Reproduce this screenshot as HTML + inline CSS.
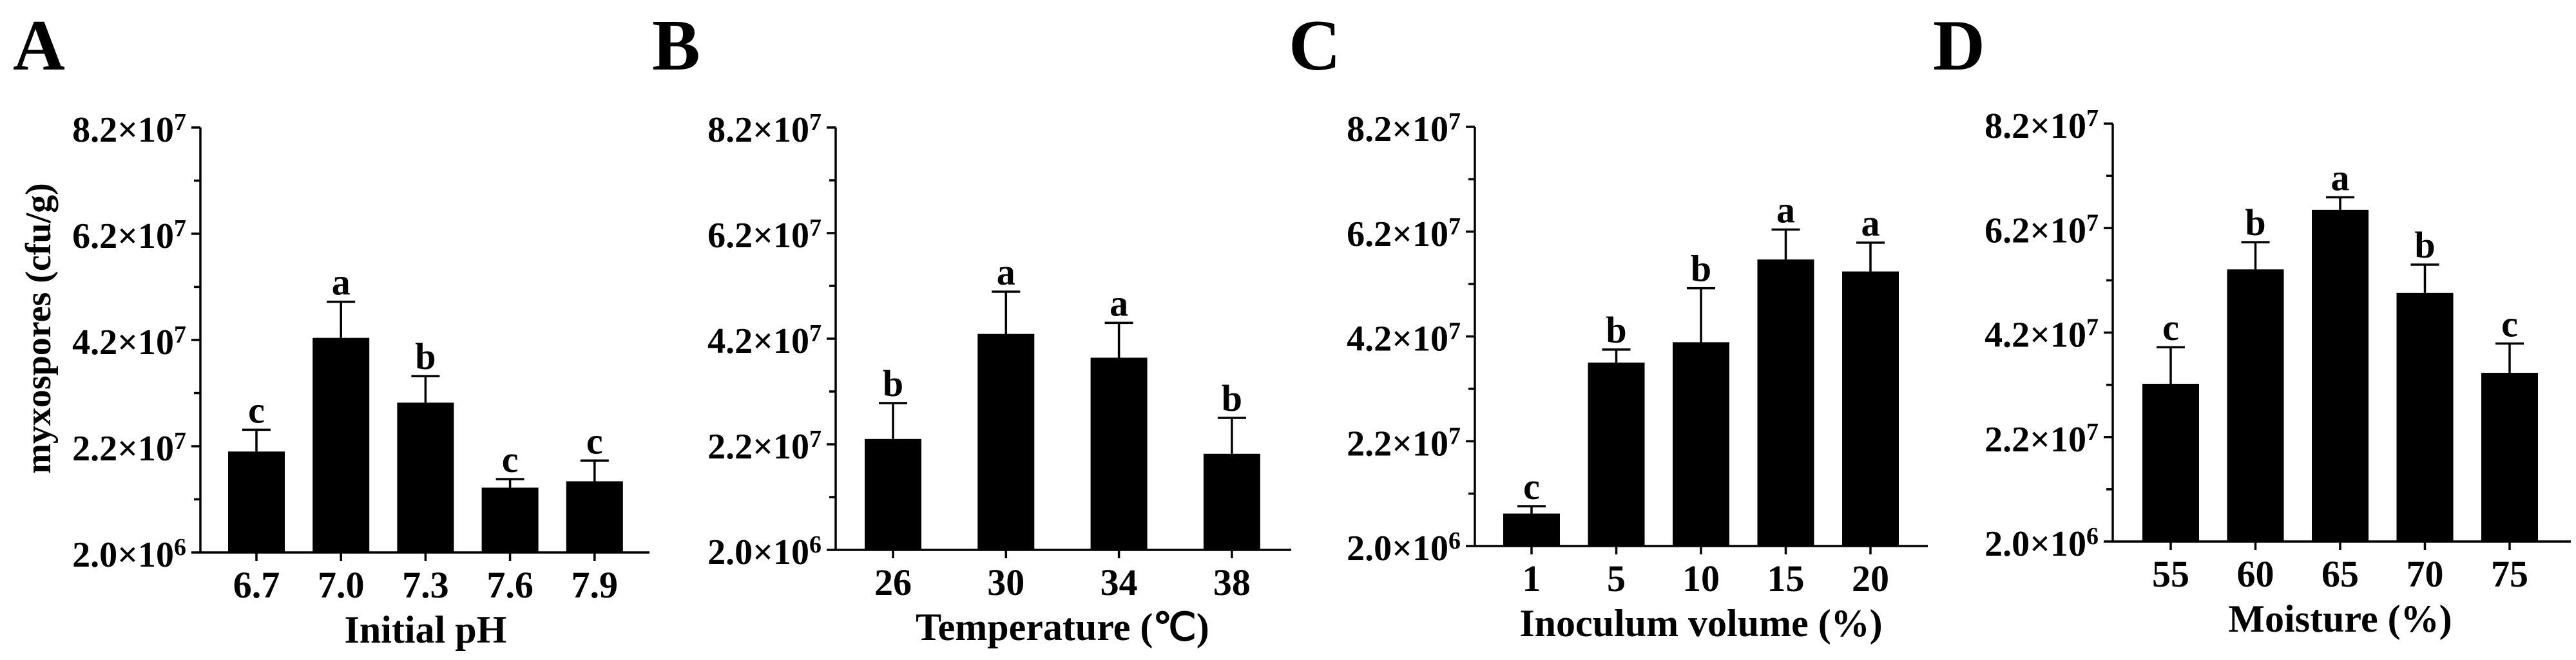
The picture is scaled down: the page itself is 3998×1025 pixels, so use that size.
<!DOCTYPE html>
<html><head><meta charset="utf-8">
<style>
html,body{margin:0;padding:0;background:#fff;}
svg{display:block;}
text{font-family:"Liberation Serif",serif;font-weight:bold;fill:#000;}
</style></head>
<body>
<svg id="fig" width="3998" height="1025" viewBox="0 0 3998 1025" xmlns="http://www.w3.org/2000/svg"></svg>
<script>
// Panel A: Initial pH
const catsA = ["6.7","7.0","7.3","7.6","7.9"];
const valsA = [2.10e7, 4.24e7, 3.02e7, 1.42e7, 1.54e7];
const errA  = [0.41e7, 0.68e7, 0.50e7, 0.16e7, 0.39e7];
const sigA  = ["c","a","b","c","c"];
// Panel B: Temperature
const catsB = ["26","30","34","38"];
const valsB = [2.30e7, 4.29e7, 3.84e7, 2.02e7];
const errB  = [0.68e7, 0.80e7, 0.66e7, 0.68e7];
const sigB  = ["b","a","a","b"];
// Panel C: Inoculum volume
const catsC = ["1","5","10","15","20"];
const valsC = [0.82e7, 3.70e7, 4.09e7, 5.67e7, 5.44e7];
const errC  = [0.14e7, 0.25e7, 1.03e7, 0.57e7, 0.55e7];
const sigC  = ["c","b","b","a","a"];
// Panel D: Moisture
const catsD = ["55","60","65","70","75"];
const valsD = [3.22e7, 5.41e7, 6.55e7, 4.96e7, 3.43e7];
const errD  = [0.70e7, 0.52e7, 0.24e7, 0.54e7, 0.56e7];
const sigD  = ["c","b","a","b","c"];
// shared y axis
const yTickMant = ["2.0","2.2","4.2","6.2","8.2"];
const yTickExp  = ["6","7","7","7","7"];
const yTickVals = [2e6, 2.2e7, 4.2e7, 6.2e7, 8.2e7];
const yMin = 2e6, yMax = 8.2e7;

const NS = "http://www.w3.org/2000/svg";
const svg = document.getElementById("fig");
function mk(tag, attrs, parent, txt){
  const e = document.createElementNS(NS, tag);
  for (const k in attrs) e.setAttribute(k, attrs[k]);
  if (txt !== undefined) e.textContent = txt;
  (parent||svg).appendChild(e);
  return e;
}

const panels = [
  {key:"a", letter:"A", lx:20, ax:311, top:198, bot:858, x0:398, step:131.2, xEnd:1008, cats:catsA, vals:valsA, errs:errA, sig:sigA, title:"Initial pH", yTitle:true},
  {key:"b", letter:"B", lx:1012, ax:1297, top:198, bot:854, x0:1386, step:175.3, xEnd:2004, cats:catsB, vals:valsB, errs:errB, sig:sigB, title:"Temperature (℃)"},
  {key:"c", letter:"C", lx:2000, ax:2289, top:197, bot:848, x0:2377, step:131.5, xEnd:2992, cats:catsC, vals:valsC, errs:errC, sig:sigC, title:"Inoculum volume (%)"},
  {key:"d", letter:"D", lx:3000, ax:3279, top:192, bot:841, x0:3369, step:131.5, xEnd:3990, cats:catsD, vals:valsD, errs:errD, sig:sigD, title:"Moisture (%)"}
];

panels.forEach(p => {
  const g = mk("g", {});
  
  
  const y = v => p.bot - (v - yMin) / (yMax - yMin) * (p.bot - p.top);
  const x = i => p.x0 + i * p.step;

  const L = mk("text", {x:p.lx, y:108, "font-size":112}, g, p.letter);
  
  

  p.vals.forEach((v, i) => {
    const cx = x(i), bw = 88;
    const bar = mk("rect", {x:cx - bw/2, y:y(v), width:bw, height:p.bot - y(v), fill:"#000"}, g);
    
    
    const eTop = y(v + p.errs[i]);
    const eb = mk("path", {d:`M${cx},${y(v)}V${eTop}M${cx-22},${eTop}H${cx+22}`, stroke:"#000", "stroke-width":3.5, fill:"none"}, g);
    
    
    const s = mk("text", {x:cx, y:eTop - 11, "font-size":58, "text-anchor":"middle"}, g, p.sig[i]);
    
    
    const tk = mk("line", {x1:cx, x2:cx, y1:p.bot, y2:p.bot + 13, stroke:"#000", "stroke-width":3.5}, g);
    
    
    const tl = mk("text", {x:cx, y:p.bot + 70, "font-size":58, "text-anchor":"middle"}, g, p.cats[i]);
    
    
  });

  const axes = mk("path", {d:`M${p.ax},${p.top}V${p.bot}H${p.xEnd}`, stroke:"#000", "stroke-width":3.5, fill:"none"}, g);
  
  

  for (let k = 0; k < 9; k++) {
    const v = yMin + k * 1e7;
    const ty = y(v);
    const major = (k % 2 === 0);
    const t = mk("line", {x1:p.ax - (major ? 14 : 10), x2:p.ax, y1:ty, y2:ty, stroke:"#000", "stroke-width":3.5}, g);
    
    
  }
  yTickVals.forEach((v, i) => {
    const ty = y(v);
    const t = mk("text", {x:p.ax - 22, y:ty + 22, "font-size":56, "text-anchor":"end"}, g);
    
    
    mk("tspan", {}, t, yTickMant[i] + "×10");
    mk("tspan", {"font-size":38, dy:-18}, t, yTickExp[i]);
  });

  const xt = mk("text", {x:(p.x0 + x(p.cats.length - 1)) / 2, y:p.bot + 140, "font-size":60, "text-anchor":"middle"}, g, p.title);
  
  

  if (p.yTitle) {
    const yt = mk("text", {x:0, y:0, "font-size":56, "text-anchor":"middle", transform:"translate(78,510) rotate(-90)"}, g, "myxospores (cfu/g)");
    
    
  }
});
</script>
</body></html>
